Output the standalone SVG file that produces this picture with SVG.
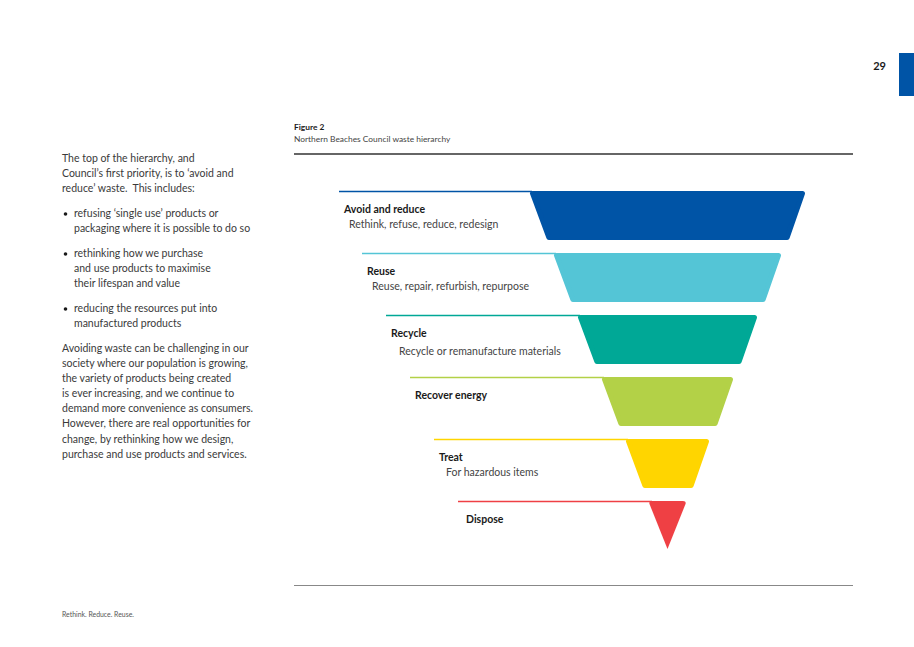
<svg xmlns="http://www.w3.org/2000/svg" width="914" height="647" viewBox="0 0 914 647">
<style>
text{font-family:Lato,"Noto Sans","Liberation Sans",sans-serif}
.body{font-size:10.5px;fill:#3a3a3a}
.lbl{font-size:10.5px;font-weight:bold;fill:#1a1a1a}
.sub{font-size:10.5px;fill:#444}
.shape{stroke-width:5;stroke-linejoin:round}
.lvl{stroke-width:1.4;fill:none}
.c1{fill:#0054A6;stroke:#0054A6}
.c2{fill:#54C5D6;stroke:#54C5D6}
.c3{fill:#00A896;stroke:#00A896}
.c4{fill:#B3D147;stroke:#B3D147}
.c5{fill:#FFD500;stroke:#FFD500}
.c6{fill:#EF4044;stroke:#EF4044}
</style>
<rect width="914" height="647" fill="#fff"/>
<g id="page-number">
<text x="886" y="70" text-anchor="end" style="font-size:11px;font-weight:bold;fill:#1a1a1a">29</text>
<rect x="899" y="53" width="15" height="43" fill="#0054A6"/>
</g>
<g id="intro-text" class="body">
<text x="62" y="162">The top of the hierarchy, and</text>
<text x="62" y="177">Council’s first priority, is to ‘avoid and</text>
<text x="62" y="192" xml:space="preserve">reduce’ waste.  This includes:</text>
<circle cx="65.5" cy="214" r="1.8" fill="#1a1a1a"/>
<text x="74" y="217">refusing ‘single use’ products or</text>
<text x="74" y="232">packaging where it is possible to do so</text>
<circle cx="65.5" cy="254" r="1.8" fill="#1a1a1a"/>
<text x="74" y="257">rethinking how we purchase</text>
<text x="74" y="272">and use products to maximise</text>
<text x="74" y="287">their lifespan and value</text>
<circle cx="65.5" cy="309" r="1.8" fill="#1a1a1a"/>
<text x="74" y="312">reducing the resources put into</text>
<text x="74" y="327">manufactured products</text>
<text x="62" y="352">Avoiding waste can be challenging in our</text>
<text x="62" y="367">society where our population is growing,</text>
<text x="62" y="382">the variety of products being created</text>
<text x="62" y="397">is ever increasing, and we continue to</text>
<text x="62" y="412">demand more convenience as consumers.</text>
<text x="62" y="427">However, there are real opportunities for</text>
<text x="62" y="443">change, by rethinking how we design,</text>
<text x="62" y="458">purchase and use products and services.</text>
</g>
<g id="figure-caption">
<text x="294" y="130" style="font-size:8.4px;font-weight:bold;fill:#1a1a1a">Figure 2</text>
<text x="294" y="142" style="font-size:8.4px;fill:#444">Northern Beaches Council waste hierarchy</text>
<line x1="294" y1="154" x2="853" y2="154" stroke="#333" stroke-width="1.5"/>
<line x1="294" y1="585.5" x2="853" y2="585.5" stroke="#888" stroke-width="1"/>
</g>
<g id="connectors">
<path class="lvl c1" d="M339,191.5 H532" style="fill:none"/>
<path class="lvl c2" d="M362,253.5 H556" style="fill:none"/>
<path class="lvl c3" d="M386,315.5 H580" style="fill:none"/>
<path class="lvl c4" d="M410,377.5 H604" style="fill:none"/>
<path class="lvl c5" d="M434,439.5 H628" style="fill:none"/>
<path class="lvl c6" d="M458,501.5 H652" style="fill:none"/>
</g>
<g id="avoid-reduce">
<polygon class="shape c1" points="532.5,193.5 802.5,193.5 787.2,237.5 548.8,237.5"/>
<text class="lbl" x="344" y="213">Avoid and reduce</text>
<text class="sub" x="349" y="228">Rethink, refuse, reduce, redesign</text>
</g>
<g id="reuse">
<polygon class="shape c2" points="556.5,255.5 778.5,255.5 763.2,299.5 572.8,299.5"/>
<text class="lbl" x="367" y="275">Reuse</text>
<text class="sub" x="372" y="290">Reuse, repair, refurbish, repurpose</text>
</g>
<g id="recycle">
<polygon class="shape c3" points="580.5,317.5 754.5,317.5 739.2,361.5 596.8,361.5"/>
<text class="lbl" x="391" y="337">Recycle</text>
<text class="sub" x="399" y="355">Recycle or remanufacture materials</text>
</g>
<g id="recover-energy">
<polygon class="shape c4" points="604.5,379.5 730.5,379.5 715.2,423.5 620.8,423.5"/>
<text class="lbl" x="415" y="399">Recover energy</text>
</g>
<g id="treat">
<polygon class="shape c5" points="628.5,441.5 706.5,441.5 691.2,485.5 644.8,485.5"/>
<text class="lbl" x="439" y="461">Treat</text>
<text class="sub" x="446" y="476">For hazardous items</text>
</g>
<g id="dispose">
<path d="M652,501 H683 Q686.5,501 685.5,504 L667.5,549 L649.5,504 Q648.5,501 652,501 Z" fill="#EF4044"/>
<text class="lbl" x="466" y="523">Dispose</text>
</g>
<g id="footer">
<text x="62" y="617" style="font-size:6.9px;fill:#555">Rethink. Reduce. Reuse.</text>
</g>
</svg>
